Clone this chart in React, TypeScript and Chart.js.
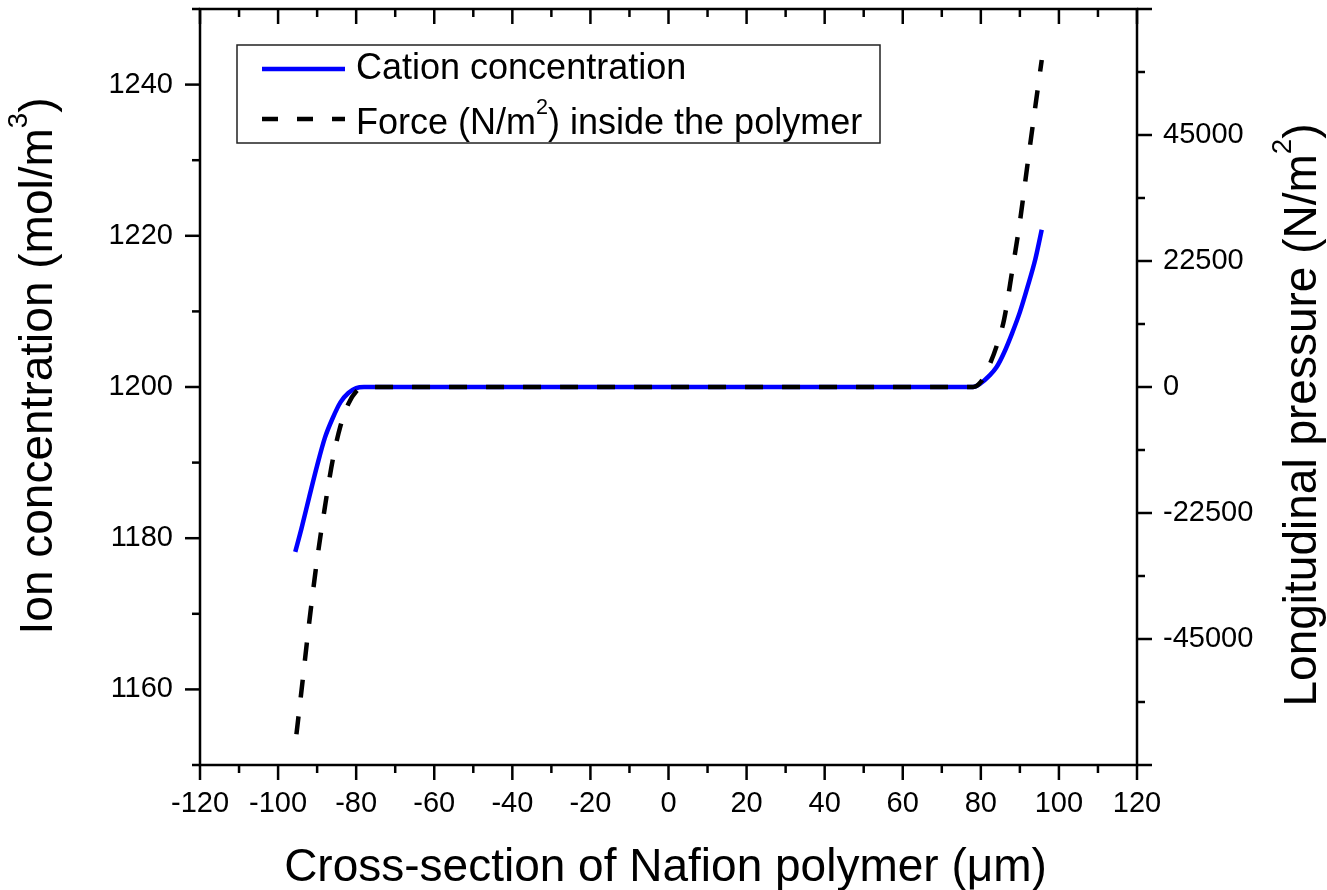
import React, { useEffect, useRef } from "react";
import { Chart, registerables } from "chart.js";

Chart.register(...registerables);

// ---------- data ----------
const cationX = [-95.6, -94, -92, -90, -88, -86, -84, -82, -80, -78, -40, 0, 40, 78, 80, 82, 84, 86, 88, 90, 92, 94, 95.6];
const cationConc = [1178.2, 1181.3, 1185.5, 1189.6, 1193.3, 1195.9, 1198.0, 1199.2, 1199.85, 1200, 1200, 1200, 1200, 1200, 1200.5, 1201.4, 1202.6, 1204.6, 1207.1, 1209.9, 1213.3, 1217.0, 1220.8];

const forceX = [-95.3, -94, -92, -90, -88, -86, -84, -82, -80, -78, -40, 0, 40, 78, 80, 82, 84, 86, 88, 90, 92, 94, 95.6];
const forceVal = [-62000, -54200, -41900, -30800, -21400, -13000, -6900, -3000, -800, 0, 0, 0, 0, 0, 900, 3600, 7200, 12200, 20600, 29500, 40000, 50300, 58400];

const xMajorTicks = [-120, -100, -80, -60, -40, -20, 0, 20, 40, 60, 80, 100, 120];
const xTickLabels = ["-120", "-100", "-80", "-60", "-40", "-20", "0", "20", "40", "60", "80", "100", "120"];
const xMinorTicks = [-110, -90, -70, -50, -30, -10, 10, 30, 50, 70, 90, 110];

const leftMajorTicks = [1160, 1180, 1200, 1220, 1240];
const leftTickLabels = ["1160", "1180", "1200", "1220", "1240"];
const leftMinorTicks = [1150, 1170, 1190, 1210, 1230, 1250];

const rightMajorTicks = [-67500, -45000, -22500, 0, 22500, 45000, 67500];
const rightTickLabels = ["", "-45000", "-22500", "0", "22500", "45000", ""];
const rightMinorTicks = [-56250, -33750, -11250, 11250, 33750, 56250];

const FAMILY = "'Liberation Sans', Arial, Helvetica, sans-serif";

type Seg = { t: string; sup?: boolean };

function drawRich(ctx: CanvasRenderingContext2D, segs: Seg[], x: number, y: number, size: number, align: "left" | "center" | "right") {
  const supSize = size * 0.6;
  const widths = segs.map((s) => {
    ctx.font = `${s.sup ? supSize : size}px ${FAMILY}`;
    return ctx.measureText(s.t).width;
  });
  const total = widths.reduce((a, b) => a + b, 0);
  let cx = align === "left" ? x : align === "center" ? x - total / 2 : x - total;
  ctx.textAlign = "left";
  ctx.textBaseline = "alphabetic";
  segs.forEach((s, i) => {
    ctx.font = `${s.sup ? supSize : size}px ${FAMILY}`;
    ctx.fillText(s.t, cx, s.sup ? y - size * 0.55 : y);
    cx += widths[i];
  });
}

const decorPlugin = {
  id: "decor",
  afterDatasetsDraw(chart: any) {
    const ctx: CanvasRenderingContext2D = chart.ctx;
    const { left, right, top, bottom } = chart.chartArea;
    const sx = chart.scales.x;
    const sy = chart.scales.y;
    const sy1 = chart.scales.y1;
    const MAJ = 15;
    const MIN = 8;
    ctx.save();
    ctx.strokeStyle = "#000";
    ctx.fillStyle = "#000";
    ctx.lineWidth = 2.5;
    ctx.lineCap = "butt";
    // frame
    ctx.strokeRect(left, top, right - left, bottom - top);

    const line = (x1: number, y1: number, x2: number, y2: number) => {
      ctx.beginPath();
      ctx.moveTo(x1, y1);
      ctx.lineTo(x2, y2);
      ctx.stroke();
    };
    // x ticks (bottom outward, top inward)
    xMajorTicks.forEach((v) => {
      const p = sx.getPixelForValue(v);
      line(p, bottom, p, bottom + MAJ);
      line(p, top, p, top + MAJ);
    });
    xMinorTicks.forEach((v) => {
      const p = sx.getPixelForValue(v);
      line(p, bottom, p, bottom + MIN);
      line(p, top, p, top + MIN);
    });
    // left ticks
    leftMajorTicks.forEach((v) => {
      const p = sy.getPixelForValue(v);
      line(left - MAJ, p, left, p);
    });
    leftMinorTicks.forEach((v) => {
      const p = sy.getPixelForValue(v);
      line(left - MIN, p, left, p);
    });
    // right ticks
    rightMajorTicks.forEach((v) => {
      const p = sy1.getPixelForValue(v);
      line(right, p, right + MAJ, p);
    });
    rightMinorTicks.forEach((v) => {
      const p = sy1.getPixelForValue(v);
      line(right, p, right + MIN, p);
    });

    // tick labels
    ctx.font = `29px ${FAMILY}`;
    ctx.textBaseline = "alphabetic";
    ctx.textAlign = "center";
    xMajorTicks.forEach((v, i) => {
      ctx.fillText(xTickLabels[i], sx.getPixelForValue(v), bottom + 47);
    });
    ctx.textAlign = "right";
    ctx.textBaseline = "middle";
    leftMajorTicks.forEach((v, i) => {
      ctx.fillText(leftTickLabels[i], left - 27, sy.getPixelForValue(v));
    });
    ctx.textAlign = "left";
    rightMajorTicks.forEach((v, i) => {
      if (rightTickLabels[i]) ctx.fillText(rightTickLabels[i], right + 26, sy1.getPixelForValue(v));
    });

    // axis titles
    drawRich(ctx, [{ t: "Cross-section of Nafion polymer (\u03bcm)" }], (left + right) / 2 - 3, 881, 46, "center");

    ctx.save();
    ctx.translate(52, 366);
    ctx.rotate(-Math.PI / 2);
    drawRich(ctx, [{ t: "Ion concentration (mol/m" }, { t: "3", sup: true }, { t: ")" }], 0, 0, 46, "center");
    ctx.restore();

    ctx.save();
    ctx.translate(1316, 415);
    ctx.rotate(-Math.PI / 2);
    drawRich(ctx, [{ t: "Longitudinal pressure (N/m" }, { t: "2", sup: true }, { t: ")" }], 0, 0, 46, "center");
    ctx.restore();

    // legend
    ctx.lineWidth = 1.5;
    ctx.strokeStyle = "#222";
    ctx.strokeRect(237, 45, 643, 98);
    ctx.lineWidth = 4.5;
    ctx.strokeStyle = "#0000ff";
    line(262, 69, 345, 69);
    ctx.strokeStyle = "#000";
    ctx.setLineDash([16, 19]);
    line(262, 119, 345, 119);
    ctx.setLineDash([]);
    drawRich(ctx, [{ t: "Cation concentration" }], 356, 79, 36, "left");
    drawRich(ctx, [{ t: "Force (N/m" }, { t: "2", sup: true }, { t: ") inside the polymer" }], 356, 134, 36, "left");
    ctx.restore();
  },
};

export default function App() {
  const ref = useRef<HTMLCanvasElement | null>(null);
  useEffect(() => {
    if (!ref.current) return;
    const chart = new Chart(ref.current, {
      type: "line",
      data: {
        datasets: [
          {
            label: "Cation concentration",
            data: cationX.map((x, i) => ({ x, y: cationConc[i] })),
            borderColor: "#0000ff",
            borderWidth: 4.5,
            pointRadius: 0,
            fill: false,
            cubicInterpolationMode: "monotone",
            yAxisID: "y",
            order: 1,
          },
          {
            label: "Force (N/m²) inside the polymer",
            data: forceX.map((x, i) => ({ x, y: forceVal[i] })),
            borderColor: "#000",
            borderWidth: 4.5,
            borderDash: [18, 19],
            pointRadius: 0,
            fill: false,
            cubicInterpolationMode: "monotone",
            yAxisID: "y1",
            order: 0,
          },
        ],
      },
      options: {
        responsive: false,
        animation: false,
        devicePixelRatio: 1,
        layout: { padding: { top: 9, left: 0, right: 0, bottom: 0 } },
        plugins: { legend: { display: false }, tooltip: { enabled: false } },
        scales: {
          x: {
            type: "linear",
            position: "bottom",
            min: -120,
            max: 120,
            grid: { display: false },
            border: { display: false },
            ticks: { display: false, stepSize: 20 },
            afterFit: (s: any) => {
              s.height = 125;
            },
          },
          y: {
            type: "linear",
            position: "left",
            min: 1150,
            max: 1250,
            grid: { display: false },
            border: { display: false },
            ticks: { display: false, stepSize: 10 },
            afterFit: (s: any) => {
              s.width = 200;
            },
          },
          y1: {
            type: "linear",
            position: "right",
            min: -67500,
            max: 67500,
            grid: { display: false },
            border: { display: false },
            ticks: { display: false, stepSize: 22500 },
            afterFit: (s: any) => {
              s.width = 190;
            },
          },
        },
      } as any,
      plugins: [decorPlugin],
    });
    return () => chart.destroy();
  }, []);
  return (
    <div style={{ position: "absolute", left: 0, top: 0, width: 1327, height: 890, background: "#fff" }}>
      <canvas ref={ref} width={1327} height={890} style={{ display: "block" }} />
    </div>
  );
}
